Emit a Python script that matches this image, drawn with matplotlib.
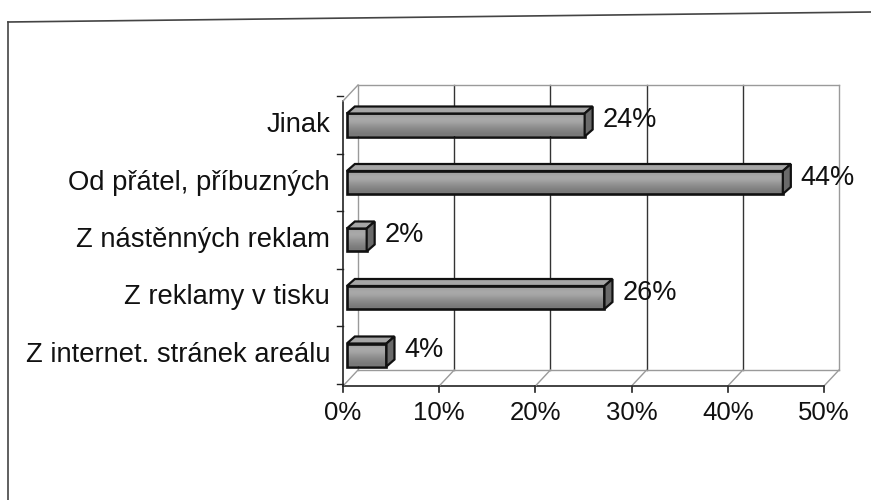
import matplotlib
matplotlib.use("Agg")
import matplotlib.pyplot as plt
import numpy as np
from matplotlib.patches import Polygon, Rectangle
from matplotlib.lines import Line2D

# data (bottom -> top)
categories = ["Z internet. stránek areálu", "Z reklamy v tisku",
              "Z nástěnných reklam", "Od přátel, příbuzných", "Jinak"]
values = [4, 26, 2, 44, 24]
tick_vals = [0, 10, 20, 30, 40, 50]
tick_labels = ["0%", "10%", "20%", "30%", "40%", "50%"]

plt.rcParams["font.family"] = ["Liberation Sans", "DejaVu Sans"]

W, H = 871, 500
fig = plt.figure(figsize=(W / 100, H / 100), dpi=100)
ax = fig.add_axes([0, 0, 1, 1])
ax.axis("off")

# pixel mapping: x=0% at 343px, 9.62 px per %; category k at 355 - k*57.5 px
PX_PER_PCT = 9.62
PX_PER_CAT = 57.5

DX = 15 / PX_PER_PCT      # wall depth
DY = 16 / PX_PER_CAT
y_front = (355 - 386) / PX_PER_CAT
y_back = y_front + DY
y_top = (355 - 85) / PX_PER_CAT
xmax = tick_vals[-1]
frame_c = "#9a9a9a"

# back wall gridlines
for v in tick_vals:
    c = frame_c if v in (0, xmax) else "#333333"
    ax.plot([v + DX, v + DX], [y_back, y_top], color=c, lw=1.0)
ax.plot([DX, xmax + DX], [y_top, y_top], color=frame_c, lw=1.0)
# floor
ax.plot([DX, xmax + DX], [y_back, y_back], color=frame_c, lw=1.0)
ax.plot([0, xmax], [y_front, y_front], color="#222222", lw=1.2)
for v in tick_vals:
    ax.plot([v, v + DX], [y_front, y_back], color=frame_c, lw=1.0)
    ax.plot([v, v], [y_front, y_front - 6 / PX_PER_CAT], color="#222222", lw=1.2)
# left wall
ax.plot([0, 0], [y_front, y_top - DY], color="#222222", lw=1.2)
ax.plot([0, DX], [y_top - DY, y_top], color=frame_c, lw=1.0)
for k in range(len(categories) + 1):
    yk = max(k - 0.5, y_front)
    ax.plot([-6 / PX_PER_PCT, 0], [yk, yk], color="#222222", lw=1.0)

# 3D bars (bars sit at mid depth, drawn slightly wider than the front scale)
BAR_SCALE = 1.03
bh = 0.2
bdx = 8 / PX_PER_PCT
bdy = 7 / PX_PER_CAT
x0 = 0.4
grad = np.array([0.62, 0.66, 0.66, 0.60, 0.55, 0.50, 0.47]).reshape(-1, 1)
for k, (cat, v) in enumerate(zip(categories, values)):
    x1 = x0 + v * BAR_SCALE
    front = Rectangle((x0, k - bh), x1 - x0, 2 * bh, facecolor="none",
                      edgecolor="#111111", lw=1.9, zorder=4)
    ax.add_patch(front)
    img = ax.imshow(grad, cmap="gray", vmin=0, vmax=1, aspect="auto",
                    extent=(x0, x1, k - bh, k + bh), interpolation="bicubic",
                    zorder=3)
    img.set_clip_path(front)
    ax.add_patch(Polygon([(x0, k + bh), (x1, k + bh), (x1 + bdx, k + bh + bdy),
                          (x0 + bdx, k + bh + bdy)], closed=True,
                         facecolor="#a6a6a6", edgecolor="#111111", lw=1.6, zorder=4))
    ax.add_patch(Polygon([(x1, k - bh), (x1, k + bh), (x1 + bdx, k + bh + bdy),
                          (x1 + bdx, k - bh + bdy)], closed=True,
                         facecolor="#6a6a6a", edgecolor="#111111", lw=1.6, zorder=4))
    ax.text(x1 + bdx + 10 / PX_PER_PCT, k + 0.08, f"{v}%", fontsize=19.5,
            va="center", ha="left", color="#111111")
    ax.text(-13 / PX_PER_PCT, k, cat, fontsize=19.7, va="center", ha="right",
            color="#111111")

ax.set_xlim(-343 / PX_PER_PCT, (W - 343) / PX_PER_PCT)
ax.set_ylim((355 - H) / PX_PER_CAT, 355 / PX_PER_CAT)

for v, lab in zip(tick_vals, tick_labels):
    ax.text(v, y_front - 27 / PX_PER_CAT, lab, fontsize=18.5, ha="center",
            va="center", color="#111111")

# outer chart frame (slightly tilted from the scan)
fig.add_artist(Line2D([8 / W, 1], [1 - 22 / H, 1 - 12 / H], color="#444444",
                      lw=1.2, transform=fig.transFigure))
fig.add_artist(Line2D([8 / W, 8 / W], [1 - 22 / H, 0], color="#444444",
                      lw=1.2, transform=fig.transFigure))

fig.savefig("out.png", dpi=100)
